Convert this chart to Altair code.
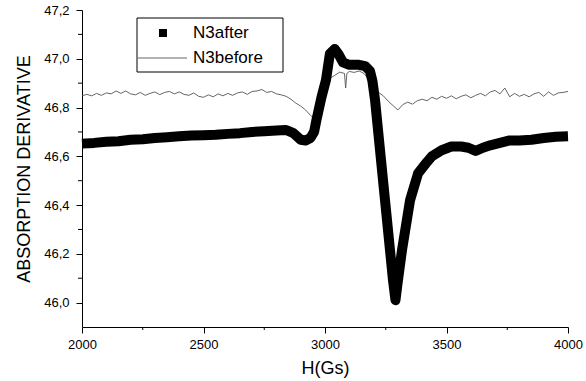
import altair as alt
import pandas as pd

# N3after (thick curve)
after_h = [2000, 2050, 2100, 2150, 2200, 2250, 2300, 2350, 2400, 2450, 2500, 2550, 2600,
           2650, 2700, 2750, 2800, 2840, 2870, 2900, 2920, 2940, 2955, 2965, 2985, 3004,
           3020, 3040, 3055, 3074, 3100, 3140, 3165, 3185, 3195, 3206, 3247, 3280, 3290,
           3300, 3317, 3350, 3383, 3420, 3440, 3480, 3520, 3560, 3590, 3620, 3650, 3680,
           3720, 3760, 3800, 3850, 3900, 3950, 4000]
after_v = [46.652, 46.655, 46.660, 46.662, 46.668, 46.670, 46.675, 46.678, 46.682, 46.685,
           46.686, 46.688, 46.692, 46.695, 46.700, 46.703, 46.706, 46.708, 46.695, 46.668,
           46.665, 46.675, 46.700, 46.750, 46.840, 46.913, 47.020, 47.040, 47.020, 46.985,
           46.975, 46.975, 46.970, 46.950, 46.910, 46.830, 46.420, 46.090, 46.010, 46.090,
           46.216, 46.420, 46.530, 46.577, 46.600, 46.625, 46.640, 46.640, 46.635, 46.622,
           46.635, 46.645, 46.655, 46.665, 46.665, 46.668, 46.675, 46.680, 46.682]

# N3before (thin noisy curve)
before_h = [2000, 2020, 2040, 2060, 2080, 2100, 2120, 2140, 2160, 2180, 2200, 2220, 2240,
            2260, 2280, 2300, 2320, 2340, 2360, 2380, 2400, 2420, 2440, 2460, 2480, 2500,
            2520, 2540, 2560, 2580, 2600, 2620, 2640, 2660, 2680, 2700, 2720, 2740, 2760,
            2780, 2800, 2820, 2840, 2860, 2880, 2900, 2920, 2940, 2960, 2980, 3000, 3020,
            3040, 3060, 3080, 3085, 3090, 3100, 3120, 3140, 3160, 3180, 3200, 3220, 3240,
            3260, 3280, 3300, 3320, 3340, 3360, 3380, 3400, 3420, 3440, 3460, 3480, 3500,
            3520, 3540, 3560, 3580, 3600, 3620, 3640, 3660, 3680, 3700, 3720, 3740, 3760,
            3780, 3800, 3820, 3840, 3860, 3880, 3900, 3920, 3940, 3960, 3980, 4000]
before_v = [46.848, 46.854, 46.848, 46.858, 46.850, 46.860, 46.856, 46.868, 46.858, 46.868,
            46.856, 46.852, 46.862, 46.850, 46.858, 46.864, 46.853, 46.862, 46.866, 46.856,
            46.864, 46.854, 46.850, 46.860, 46.846, 46.842, 46.852, 46.844, 46.856, 46.848,
            46.858, 46.850, 46.860, 46.864, 46.854, 46.866, 46.868, 46.874, 46.862, 46.866,
            46.856, 46.852, 46.846, 46.834, 46.818, 46.806, 46.790, 46.768, 46.752, 46.800,
            46.870, 46.920, 46.932, 46.945, 46.940, 46.880, 46.940, 46.948, 46.944, 46.950,
            46.940, 46.915, 46.890, 46.862, 46.848, 46.826, 46.808, 46.790, 46.812, 46.822,
            46.814, 46.828, 46.834, 46.828, 46.842, 46.834, 46.846, 46.838, 46.848, 46.836,
            46.846, 46.852, 46.840, 46.850, 46.858, 46.848, 46.864, 46.870, 46.856, 46.880,
            46.844, 46.858, 46.846, 46.854, 46.844, 46.856, 46.862, 46.846, 46.864, 46.850,
            46.860, 46.862, 46.866]

x_major = [2000, 2500, 3000, 3500, 4000]
x_minor = [2250, 2750, 3250, 3750]
y_major = [46.0, 46.2, 46.4, 46.6, 46.8, 47.0, 47.2]
y_minor = [46.1, 46.3, 46.5, 46.7, 46.9, 47.1]

FONT = "Liberation Sans"
W, H = 486, 317

xs = alt.Scale(domain=[2000, 4000], nice=False, zero=False)
ys = alt.Scale(domain=[45.9, 47.2], nice=False, zero=False)

after_df = pd.DataFrame({"H": after_h, "v": after_v})
before_df = pd.DataFrame({"H": before_h, "v": before_v})

xaxis = alt.Axis(values=x_major, format="d", tickSize=6, labelFontSize=13, labelFont=FONT,
                 labelColor="black", labelPadding=5, title="H(Gs)", titleFont=FONT,
                 titleFontSize=18, titleFontWeight="normal", titleColor="black",
                 titlePadding=8, domainColor="black", tickColor="black", grid=False,
                 labelFlush=False)
yaxis = alt.Axis(values=y_major, tickSize=6, labelFontSize=13, labelFont=FONT,
                 labelColor="black", labelPadding=7,
                 labelExpr="replace(format(datum.value, '.1f'), '.', ',')",
                 title="ABSORPTION DERIVATIVE", titleFont=FONT, titleFontSize=18,
                 titleFontWeight="normal", titleColor="black", titlePadding=10,
                 domainColor="black", tickColor="black", grid=False, labelFlush=False)

before_line = alt.Chart(before_df).mark_line(color="#555555", strokeWidth=0.9).encode(
    x=alt.X("H:Q", scale=xs, axis=xaxis),
    y=alt.Y("v:Q", scale=ys, axis=yaxis),
)
after_line = alt.Chart(after_df).mark_line(color="black", strokeWidth=10, strokeJoin="round",
                                           strokeCap="butt").encode(
    x=alt.X("H:Q", scale=xs),
    y=alt.Y("v:Q", scale=ys),
)

xminor = alt.Chart(pd.DataFrame({"H": x_minor})).mark_rule(color="black").encode(
    x=alt.X("H:Q", scale=xs), y=alt.value(H), y2=alt.value(H + 3))
yminor = alt.Chart(pd.DataFrame({"v": y_minor})).mark_rule(color="black").encode(
    y=alt.Y("v:Q", scale=ys), x=alt.value(0), x2=alt.value(-4))

legend_labels = ["N3after", "N3before"]
box = alt.Chart(pd.DataFrame({"a": [0]})).mark_rect(fill="white", stroke="black",
                                                     strokeWidth=1).encode(
    x=alt.value(55), x2=alt.value(201), y=alt.value(8), y2=alt.value(62))
sq = alt.Chart(pd.DataFrame({"a": [0]})).mark_square(size=64, color="black", opacity=1).encode(
    x=alt.value(81), y=alt.value(23))
ln = alt.Chart(pd.DataFrame({"a": [0]})).mark_rule(color="#555555", strokeWidth=0.9).encode(
    x=alt.value(56), x2=alt.value(105), y=alt.value(48))
t1 = alt.Chart(pd.DataFrame({"t": [legend_labels[0]]})).mark_text(
    align="left", baseline="middle", font=FONT, fontSize=17, color="black").encode(
    x=alt.value(111), y=alt.value(23), text="t:N")
t2 = alt.Chart(pd.DataFrame({"t": [legend_labels[1]]})).mark_text(
    align="left", baseline="middle", font=FONT, fontSize=17, color="black").encode(
    x=alt.value(111), y=alt.value(48), text="t:N")

chart = alt.layer(before_line, after_line, xminor, yminor, box, sq, ln, t1, t2).properties(
    width=W, height=H,
    autosize=alt.AutoSizeParams(type="none"),
    padding={"left": 82, "top": 10, "right": 18, "bottom": 54},
    background="white",
).configure_view(stroke=None)

chart.save("out.html", embed_options={"renderer": "svg", "actions": False})
